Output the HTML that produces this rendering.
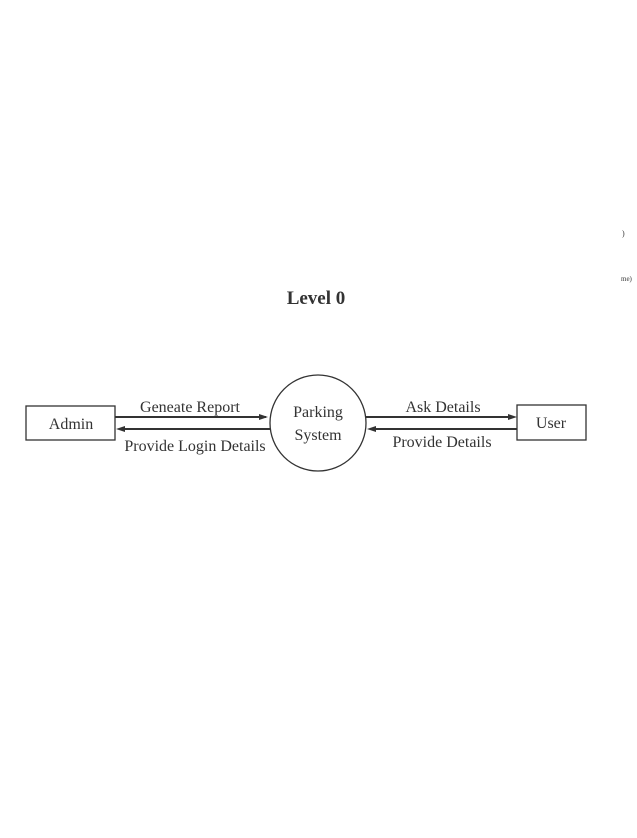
<!DOCTYPE html>
<html><head><style>
body{margin:0;background:#fff;}
svg text{font-family:"Liberation Serif",serif;fill:#333;}
</style></head><body>
<svg width="637" height="833" xmlns="http://www.w3.org/2000/svg">
<text x="316" y="304" font-size="19" font-weight="bold" text-anchor="middle" fill="#222">Level 0</text>
<rect x="26" y="406" width="89" height="34" fill="none" stroke="#333" stroke-width="1.3"/>
<text x="71" y="429" font-size="16" text-anchor="middle">Admin</text>
<rect x="517" y="405" width="69" height="35" fill="none" stroke="#333" stroke-width="1.3"/>
<text x="551" y="428" font-size="16" text-anchor="middle">User</text>
<circle cx="318" cy="423" r="48" fill="none" stroke="#333" stroke-width="1.3"/>
<text x="318" y="417" font-size="16" text-anchor="middle">Parking</text>
<text x="318" y="440" font-size="16" text-anchor="middle">System</text>
<line x1="115" y1="417" x2="266" y2="417" stroke="#333" stroke-width="2"/>
<polygon points="268,417 259,414 259,420" fill="#333"/>
<line x1="120" y1="429" x2="270" y2="429" stroke="#333" stroke-width="2"/>
<polygon points="116,429 125,426 125,432" fill="#333"/>
<line x1="366" y1="417" x2="513" y2="417" stroke="#333" stroke-width="2"/>
<polygon points="517,417 508,414 508,420" fill="#333"/>
<line x1="372" y1="429" x2="517" y2="429" stroke="#333" stroke-width="2"/>
<polygon points="367,429 376,426 376,432" fill="#333"/>
<text x="190" y="412" font-size="16" text-anchor="middle">Geneate Report</text>
<text x="195" y="451" font-size="16" text-anchor="middle">Provide Login Details</text>
<text x="443" y="412" font-size="16" text-anchor="middle">Ask Details</text>
<text x="442" y="447" font-size="16" text-anchor="middle">Provide Details</text>
<text x="622" y="236" font-size="8">)</text>
<text x="621" y="281" font-size="7">me)</text>
</svg>
</body></html>
